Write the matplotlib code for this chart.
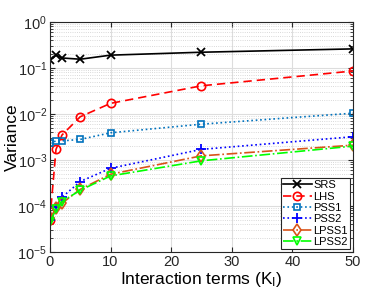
import matplotlib
matplotlib.use("Agg")
import matplotlib.pyplot as plt
from matplotlib.ticker import LogLocator, NullFormatter

plt.rcParams["font.family"] = ["Liberation Sans", "DejaVu Sans"]
plt.rcParams["mathtext.fontset"] = "custom"
plt.rcParams["mathtext.rm"] = "Liberation Sans"
plt.rcParams["mathtext.it"] = "Liberation Sans:italic"
plt.rcParams["mathtext.bf"] = "Liberation Sans:bold"

x = [0, 1, 2, 5, 10, 25, 50]
srs = [0.148, 0.19, 0.165, 0.155, 0.19, 0.22, 0.26]
lhs = [5.0e-5, 1.7e-3, 3.5e-3, 8.7e-3, 0.017, 0.041, 0.086]
pss1 = [2.3e-3, 2.6e-3, 2.6e-3, 2.8e-3, 3.9e-3, 6.0e-3, 0.0104]
pss2 = [5.0e-5, 9.5e-5, 1.55e-4, 3.4e-4, 6.6e-4, 1.7e-3, 3.2e-3]
lpss1 = [5.4e-5, 8.9e-5, 1.15e-4, 2.3e-4, 4.9e-4, 1.23e-3, 2.1e-3]
lpss2 = [4.4e-5, 8.5e-5, 1.25e-4, 2.2e-4, 4.5e-4, 9.6e-4, 2.0e-3]
labels = ["SRS", "LHS", "PSS1", "PSS2", "LPSS1", "LPSS2"]

fig = plt.figure(figsize=(3.9, 2.93), dpi=100)
ax = fig.add_axes([0.128, 0.14, 0.777, 0.785])

ax.semilogy(x, srs, color="black", ls="-", marker="x", ms=6, mew=1.3, lw=1.2, label=labels[0])
ax.semilogy(x, lhs, color="#FF0000", ls=(0, (5, 3)), marker="o", ms=6, mfc="none", mew=1.2, lw=1.2, label=labels[1])
ax.semilogy(x, pss1, color="#0072BD", ls=":", marker="s", ms=5, mfc="none", mew=1.2, lw=1.2, label=labels[2])
ax.semilogy(x, pss2, color="#0000FF", ls=":", marker="+", ms=7, mew=1.3, lw=1.2, label=labels[3])
ax.semilogy(x, lpss1, color="#D95319", ls="-.", marker="d", ms=6, mfc="none", mew=1.2, lw=1.2, label=labels[4])
ax.semilogy(x, lpss2, color="#00FF00", ls="-.", marker="v", ms=6, mfc="none", mew=1.2, lw=1.2, label=labels[5])

ax.set_xlim(0, 50)
ax.set_ylim(1e-5, 1)
ax.set_xticks([0, 10, 20, 30, 40, 50])
ax.yaxis.set_major_locator(LogLocator(base=10, numticks=10))
ax.yaxis.set_minor_locator(LogLocator(base=10, subs=range(2, 10), numticks=20))
ax.yaxis.set_minor_formatter(NullFormatter())

ax.grid(True, which="major", color="#DDDDDD", lw=0.8, ls="-")
ax.grid(True, which="minor", axis="y", color="#CCCCCC", lw=0.6, ls=":")
ax.set_axisbelow(True)
ax.tick_params(which="both", direction="in", top=True, right=True, labelsize=10.5, colors="#262626", pad=2)
ax.tick_params(which="minor", length=2)
for s in ax.spines.values():
    s.set_color("#262626")
    s.set_linewidth(0.8)

ax.set_xlabel("Interaction terms (K$_\\mathrm{I}$)", fontsize=12.5, labelpad=1)
ax.set_ylabel("Variance", fontsize=12.5)
ax.yaxis.set_label_coords(-0.1, 0.5)

leg = ax.legend(loc="lower right", fontsize=8, fancybox=False, edgecolor="#262626",
                framealpha=1, borderpad=0.2, labelspacing=0.12, handlelength=2.6,
                handletextpad=0.15, borderaxespad=0.25)
leg.get_frame().set_linewidth(0.8)

fig.savefig("out.png", dpi=100)
